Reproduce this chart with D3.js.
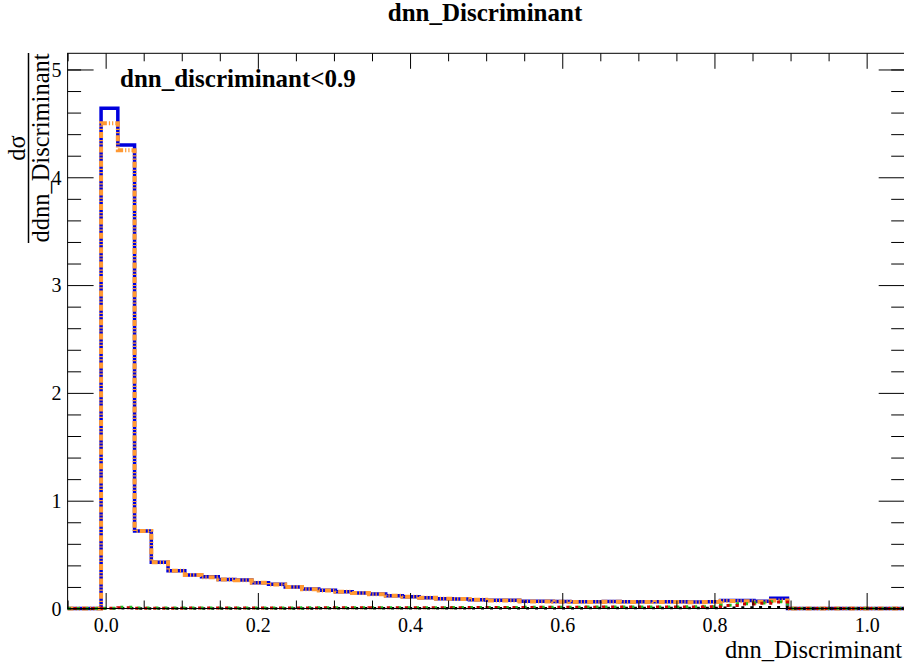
<!DOCTYPE html>
<html>
<head>
<meta charset="utf-8">
<script src="https://cdnjs.cloudflare.com/ajax/libs/d3/7.8.5/d3.min.js"></script>
<style>
body { margin: 0; background: #fff; }
svg text { font-family: "Liberation Serif", "Times New Roman", Times, serif; fill: #000; }
</style>
</head>
<body>
<div id="chart"></div>
<script>
// Global vars
var DEFAULT_WIDTH = 904;
var DEFAULT_HEIGHT = 667;

// histogram binning (ROOT style: 50 bins from -0.05 to 1.05)
var binLow = -0.05;
var binHigh = 1.05;
var nBins = 50;

// bin contents
var totalBlue = [0, 0, 4.64, 4.30, 0.72, 0.43, 0.35, 0.31, 0.295, 0.27,
    0.265, 0.24, 0.224, 0.20, 0.18, 0.17, 0.156, 0.144, 0.134, 0.119,
    0.11, 0.10, 0.091, 0.088, 0.082, 0.076, 0.076, 0.067, 0.067, 0.064,
    0.062, 0.062, 0.064, 0.063, 0.063, 0.062, 0.062, 0.061, 0.062, 0.075,
    0.075, 0.068, 0.095, 0, 0, 0, 0, 0, 0, 0];
var bkgOrange = [0, 0, 4.50, 4.25, 0.72, 0.43, 0.35, 0.31, 0.29, 0.27,
    0.262, 0.24, 0.222, 0.20, 0.178, 0.168, 0.155, 0.143, 0.132, 0.118,
    0.109, 0.099, 0.09, 0.087, 0.081, 0.075, 0.075, 0.066, 0.066, 0.063,
    0.061, 0.061, 0.062, 0.061, 0.061, 0.06, 0.06, 0.059, 0.06, 0.07,
    0.068, 0.062, 0.075, 0, 0, 0, 0, 0, 0, 0];
var sigGreen = [0, 0, 0.003, 0.012, 0.004, 0.004, 0.004, 0.004, 0.004, 0.004,
    0.005, 0.005, 0.005, 0.005, 0.006, 0.006, 0.006, 0.007, 0.007, 0.007,
    0.008, 0.008, 0.008, 0.009, 0.009, 0.01, 0.01, 0.011, 0.011, 0.012,
    0.012, 0.013, 0.013, 0.014, 0.014, 0.015, 0.015, 0.016, 0.017, 0.03,
    0.045, 0.05, 0.062, 0, 0, 0, 0, 0, 0, 0];
var sigRed = [0, 0, 0.002, 0.008, 0.003, 0.003, 0.003, 0.004, 0.004, 0.004,
    0.004, 0.005, 0.005, 0.005, 0.005, 0.006, 0.006, 0.006, 0.007, 0.007,
    0.007, 0.008, 0.008, 0.008, 0.009, 0.009, 0.01, 0.01, 0.011, 0.011,
    0.012, 0.012, 0.013, 0.013, 0.014, 0.014, 0.015, 0.015, 0.016, 0.028,
    0.042, 0.048, 0.06, 0, 0, 0, 0, 0, 0, 0];
var otherBlack = [0, 0, 0.001, 0.002, 0.001, 0.001, 0.001, 0.001, 0.001, 0.001,
    0.001, 0.001, 0.001, 0.001, 0.001, 0.002, 0.002, 0.002, 0.002, 0.002,
    0.002, 0.002, 0.002, 0.002, 0.003, 0.003, 0.003, 0.003, 0.003, 0.003,
    0.003, 0.004, 0.004, 0.004, 0.004, 0.004, 0.005, 0.005, 0.005, 0.008,
    0.01, 0.012, 0.012, 0, 0, 0, 0, 0, 0, 0];

// axis ticks
var xMajorTicks = [0.0, 0.2, 0.4, 0.6, 0.8, 1.0];
var xMinorTicks = [-0.05, 0.05, 0.1, 0.15, 0.25, 0.3, 0.35, 0.45, 0.5, 0.55,
    0.65, 0.7, 0.75, 0.85, 0.9, 0.95, 1.05];
var yMajorTicks = [0, 1, 2, 3, 4, 5];
var yMinorTicks = [0.2, 0.4, 0.6, 0.8, 1.2, 1.4, 1.6, 1.8, 2.2, 2.4, 2.6, 2.8,
    3.2, 3.4, 3.6, 3.8, 4.2, 4.4, 4.6, 4.8, 5.0];
var yMax = 5.15;

var titleText = 'dnn_Discriminant';
var cutText = 'dnn_discriminant<0.9';
var xTitle = 'dnn_Discriminant';

var SERIF = 'Liberation Serif';

/*
 * Render the graphic.
 */
var render = function() {
    var margins = {
        top: 53.3,
        right: -0.7,
        bottom: 58.5,
        left: 67.6
    };

    var chartWidth = DEFAULT_WIDTH - margins['left'] - margins['right'];
    var chartHeight = DEFAULT_HEIGHT - margins['top'] - margins['bottom'];

    var containerElement = d3.select('#chart');
    containerElement.html('');

    var svg = containerElement.append('svg')
        .attr('width', DEFAULT_WIDTH)
        .attr('height', DEFAULT_HEIGHT);

    var chart = svg.append('g')
        .attr('transform', 'translate(' + margins['left'] + ',' + margins['top'] + ')');

    var xScale = d3.scaleLinear()
        .domain([binLow, binHigh])
        .range([0, chartWidth]);

    var yScale = d3.scaleLinear()
        .domain([0, yMax])
        .range([chartHeight, 0]);

    // histograms as step lines
    var stepLine = d3.line()
        .x(function(d) { return xScale(d.x); })
        .y(function(d) { return yScale(d.v); })
        .curve(d3.curveStepAfter);

    var binWidth = (binHigh - binLow) / nBins;
    var toSteps = function(values) {
        var pts = values.map(function(v, i) {
            return { x: binLow + i * binWidth, v: v };
        });
        pts.push({ x: binHigh, v: values[values.length - 1] });
        return pts;
    };

    var series = [
        { values: totalBlue, color: '#0000dd', width: 3.5, dash: null },
        { values: bkgOrange, color: '#ff9933', width: 4, dash: '6 2 1.2 2 1.2 2' },
        { values: otherBlack, color: '#000000', width: 2.5, dash: '3 6' },
        { values: sigGreen, color: '#22bb22', width: 3, dash: '3 6' },
        { values: sigRed, color: '#cc0000', width: 3, dash: '3 6', offset: 3 }
    ];

    series.forEach(function(s) {
        chart.append('path')
            .datum(toSteps(s.values))
            .attr('d', stepLine)
            .attr('fill', 'none')
            .attr('stroke', s.color)
            .attr('stroke-width', s.width)
            .attr('stroke-dasharray', s.dash)
            .attr('stroke-dashoffset', s.offset || 0);
    });

    // ticks (ROOT draws them inward, on all four sides)
    var xMajLen = 15.5, xMinLen = 8;
    var yMajLen = 26, yMinLen = 13.5;

    var bottomAxis = chart.append('g')
        .attr('class', 'x axis')
        .attr('transform', 'translate(0,' + chartHeight + ')')
        .call(d3.axisBottom(xScale)
            .tickValues(xMajorTicks)
            .tickSize(-xMajLen)
            .tickSizeOuter(0)
            .tickPadding(9)
            .tickFormat(d3.format('.1f')));
    chart.append('g')
        .attr('transform', 'translate(0,' + chartHeight + ')')
        .call(d3.axisBottom(xScale).tickValues(xMinorTicks).tickSize(-xMinLen).tickSizeOuter(0).tickFormat(''));
    chart.append('g')
        .call(d3.axisTop(xScale).tickValues(xMajorTicks).tickSize(-xMajLen).tickSizeOuter(0).tickFormat(''));
    chart.append('g')
        .call(d3.axisTop(xScale).tickValues(xMinorTicks).tickSize(-xMinLen).tickSizeOuter(0).tickFormat(''));

    var leftAxis = chart.append('g')
        .attr('class', 'y axis')
        .call(d3.axisLeft(yScale)
            .tickValues(yMajorTicks)
            .tickSize(-yMajLen)
            .tickSizeOuter(0)
            .tickPadding(6)
            .tickFormat(d3.format('d')));
    chart.append('g')
        .call(d3.axisLeft(yScale).tickValues(yMinorTicks).tickSize(-yMinLen).tickSizeOuter(0).tickFormat(''));
    chart.append('g')
        .attr('transform', 'translate(' + chartWidth + ',0)')
        .call(d3.axisRight(yScale).tickValues(yMajorTicks).tickSize(-yMajLen).tickSizeOuter(0).tickFormat(''));
    chart.append('g')
        .attr('transform', 'translate(' + chartWidth + ',0)')
        .call(d3.axisRight(yScale).tickValues(yMinorTicks).tickSize(-yMinLen).tickSizeOuter(0).tickFormat(''));

    chart.selectAll('.domain').remove();
    chart.selectAll('.tick line').attr('stroke', '#000').attr('stroke-width', 1);
    chart.selectAll('.tick text')
        .attr('font-family', SERIF)
        .attr('font-size', 20)
        .attr('fill', '#000');
    leftAxis.selectAll('.tick text').attr('dy', '0.34em');

    // frame
    chart.append('rect')
        .attr('x', 0)
        .attr('y', 0)
        .attr('width', chartWidth)
        .attr('height', chartHeight)
        .attr('fill', 'none')
        .attr('stroke', '#000')
        .attr('stroke-width', 1);

    // titles (bold serif)
    svg.append('text')
        .attr('x', 485)
        .attr('y', 21)
        .attr('text-anchor', 'middle')
        .attr('font-family', SERIF)
        .attr('font-weight', 700)
        .attr('font-size', 25)
        .style('font-family', '"Liberation Serif", serif')
        .text(titleText);

    svg.append('text')
        .attr('x', 120)
        .attr('y', 87)
        .attr('font-family', SERIF)
        .attr('font-weight', 700)
        .attr('font-size', 25)
        .style('font-family', '"Liberation Serif", serif')
        .text(cutText);

    svg.append('text')
        .attr('x', 902)
        .attr('y', 658)
        .attr('text-anchor', 'end')
        .attr('font-family', SERIF)
        .attr('font-size', 24.5)
        .text(xTitle);

    // y title as a fraction d(sigma)/d(dnn_Discriminant)
    var yTitle = svg.append('g');
    yTitle.append('text')
        .attr('transform', 'translate(25,148) rotate(-90)')
        .attr('text-anchor', 'middle')
        .attr('font-family', SERIF)
        .attr('font-size', 24.5)
        .text('d\u03c3');
    yTitle.append('line')
        .attr('x1', 28.5).attr('x2', 28.5)
        .attr('y1', 53).attr('y2', 243)
        .attr('stroke', '#000')
        .attr('stroke-width', 1.5);
    yTitle.append('text')
        .attr('transform', 'translate(49,148) rotate(-90)')
        .attr('text-anchor', 'middle')
        .attr('font-family', SERIF)
        .attr('font-size', 24.5)
        .text('d' + xTitle);
};

window.onload = render;
</script>
</body>
</html>
